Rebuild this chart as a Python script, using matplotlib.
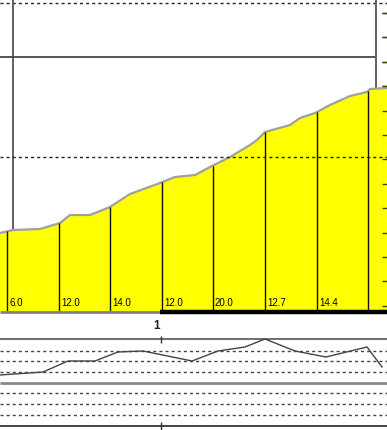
import numpy as np
import matplotlib.pyplot as plt

plt.rcParams["lines.scale_dashes"] = False

# upper panel: filled price curve (screen units, y grows downward)
curve_x = [0, 13, 40, 60, 70, 90, 110, 130, 160, 175, 195, 210, 230, 250,
           257, 265, 290, 300, 315, 330, 350, 367, 370, 387]
curve_y = [233, 230, 229, 223, 215, 215, 207, 194, 183, 177, 175, 167, 157,
           145, 140, 132, 125, 118, 113, 105, 96, 92, 89, 88]

bar_edges = [7, 59, 110, 162, 213, 265, 317, 368]
bar_labels = ["6.0", "12.0", "14.0", "12.0", "20.0", "12.7", "14.4"]

right_ticks = [13 + 24.4 * k for k in range(13)]

# lower panel: oscillator line
osc_x = [0, 43, 68, 95, 118, 143, 192, 218, 245, 265, 295, 326, 367, 382]
osc_y = [375, 372, 361, 361, 352, 351, 361, 351, 347, 339, 351, 357, 347, 367]

page_label = "1"

base = 311
dash = (0, (2.2, 2.2))

fig = plt.figure(figsize=(3.87, 4.30), dpi=100)
ax = fig.add_axes([0, 0, 1, 1])
ax.set_xlim(0, 387)
ax.set_ylim(430, 0)
ax.axis("off")

# upper grid
ax.hlines(3, 0, 387, color="#222222", lw=1, linestyles=dash)
ax.vlines(13, 0, 230, color="#555555", lw=1.3)
ax.hlines(57, 0, 376, color="#444444", lw=1.3)
ax.vlines(376, 0, 90, color="#555555", lw=1.3)
ax.hlines(right_ticks, 382, 387, color="#333333", lw=1)

# yellow area
ax.fill_between(curve_x, curve_y, base, color="#ffff00", lw=0, zorder=2)
ax.plot(curve_x, curve_y, color="#a0a0a0", lw=1.6, zorder=3)
tops = np.interp(bar_edges, curve_x, curve_y)
ax.vlines(bar_edges, tops, base, color="#111111", lw=1, zorder=3)
ax.hlines(157, 0, 387, color="#222222", lw=1, linestyles=dash, zorder=4)
ax.hlines(right_ticks, 382, 387, color="#444400", lw=1, zorder=4)

for x0, lab in zip(bar_edges, bar_labels):
    ax.text(x0 + 2, 306, lab, fontsize=7, family="Liberation Sans",
            color="#000000", ha="left", va="baseline", zorder=5)

# separator under labels
ax.hlines(312, 0, 160, color="#808080", lw=2, zorder=5)
ax.hlines(312, 160, 387, color="#000000", lw=3.2, zorder=5)
ax.text(157, 326, page_label, fontsize=8.5, fontweight="bold",
        family="Liberation Sans", color="#222222", ha="center", va="center")

# lower panel
ax.hlines(339, 0, 387, color="#555555", lw=1.2)
ax.vlines(161, 336, 343, color="#333333", lw=1)
ax.hlines([351, 361, 372], 0, 387, color="#444444", lw=1, linestyles=dash)
ax.plot(osc_x, osc_y, color="#444444", lw=1)
ax.hlines(383, 0, 387, color="#888888", lw=2)
ax.hlines([393, 404, 415], 0, 387, color="#444444", lw=1, linestyles=dash)
ax.hlines(426, 0, 387, color="#222222", lw=1.2)
ax.vlines(161, 422, 430, color="#333333", lw=1)

fig.savefig("out.png", dpi=100)
